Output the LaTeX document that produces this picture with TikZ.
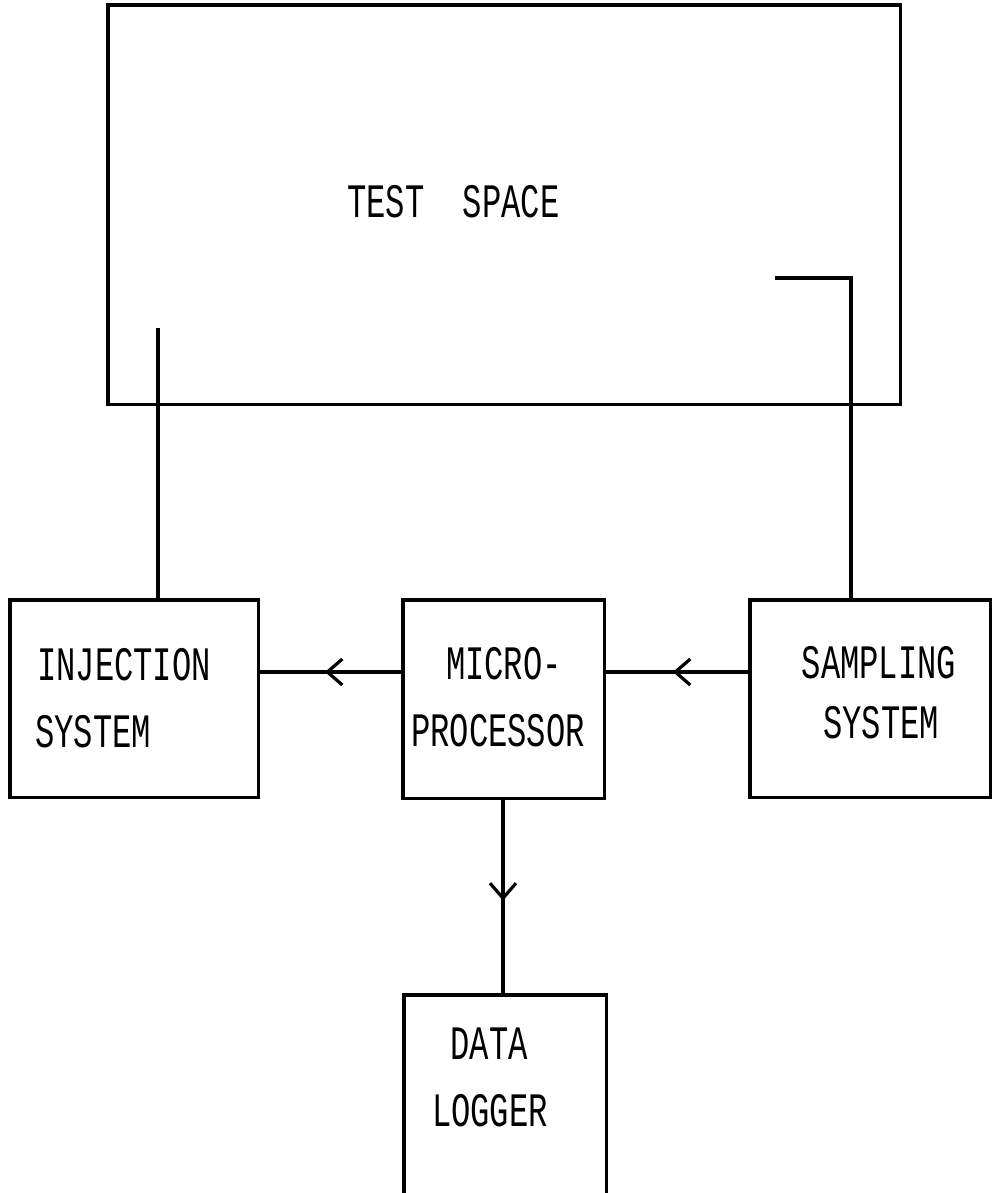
\documentclass[tikz,border=0pt]{standalone}
\usepackage{fontspec}
\setmonofont{Liberation Mono}
\usepackage{graphicx}
\usetikzlibrary{arrows.meta,decorations.markings}
\newcommand\sq[1]{\scalebox{0.67}[1]{#1}}
\tikzset{
  box/.style={draw=none,inner sep=0,anchor=north west},
  ln/.style={line width=3.2pt,black},
  lbl/.style={inner sep=0,font=\fontsize{48}{48}\selectfont\ttfamily},
  midarrow/.style={postaction={decorate},decoration={markings,
     mark=at position #1 with {\arrow{Straight Barb[length=15pt,width=26pt,line width=3.2pt]}}}}
}
\begin{document}
\begin{tikzpicture}[x=1pt,y=-1pt]
\useasboundingbox (0,0) rectangle (992,1193);
% boxes
\node[box,minimum width=792pt,minimum height=399pt] (test) at (108,5) {};
\node[box,minimum width=248pt,minimum height=197pt] (inj) at (10,600) {};
\node[box,minimum width=201pt,minimum height=198pt] (mp) at (403,600) {};
\node[box,minimum width=240pt,minimum height=197pt] (samp) at (750,600) {};
\node[box,minimum width=202pt,minimum height=210pt] (dl) at (404,995) {};
\draw[ln] (test.north west) rectangle (test.south east);
\draw[ln] (inj.north west) rectangle (inj.south east);
\draw[ln] (mp.north west) rectangle (mp.south east);
\draw[ln] (samp.north west) rectangle (samp.south east);
\draw[ln] (dl.south west) -- (dl.north west) -- (dl.north east) -- (dl.south east);
% probes
\coordinate (injtop) at (158,328);
\coordinate (samptop) at (775,278);
\coordinate (sampcorner) at (851,278);
\draw[ln] (injtop) -- (injtop |- inj.north);
\draw[ln] (samptop) -- (sampcorner) -- (sampcorner |- samp.north);
% connectors
\draw[ln,midarrow=0.53] (samp.west |- 0,672) -- (mp.east |- 0,672);
\draw[ln,midarrow=0.54] (mp.west |- 0,672) -- (inj.east |- 0,672);
\draw[ln,midarrow=0.52] (mp.south -| 503,0) -- (dl.north -| 503,0);
% labels
\node[lbl,anchor=base west] (t1) at (347,217) {\sq{TEST\ \ SPACE}};
\node[lbl,anchor=base west] (i1) at (37,680) {\sq{INJECTION}};
\node[lbl,anchor=base west] (i2) at (35,747) {\sq{SYSTEM}};
\node[lbl,anchor=base] (m1) at (504,679) {\sq{MICRO-}};
\node[lbl,anchor=base] (m2) at (498,746) {\sq{PROCESSOR}};
\node[lbl,anchor=base] (s1) at (879,678) {\sq{SAMPLING}};
\node[lbl,anchor=base] (s2) at (881,738) {\sq{SYSTEM}};
\node[lbl,anchor=base] (d1) at (489,1059) {\sq{DATA}};
\node[lbl,anchor=base] (d2) at (490,1126) {\sq{LOGGER}};
\end{tikzpicture}
\end{document}
